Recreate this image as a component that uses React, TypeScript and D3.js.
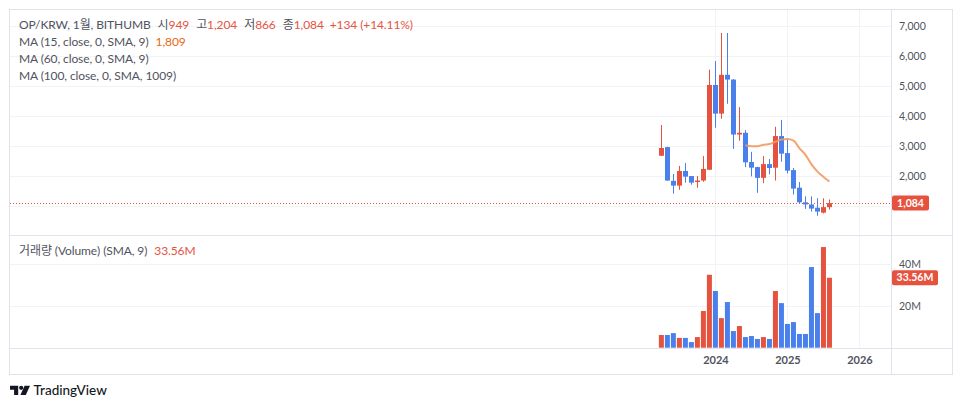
import React, { useEffect, useRef } from 'react'
import * as d3 from 'd3'

// monthly OP/KRW candles on Bithumb
const months = [
    '2023-04', '2023-05', '2023-06', '2023-07', '2023-08', '2023-09', '2023-10', '2023-11', '2023-12',
    '2024-01', '2024-02', '2024-03', '2024-04', '2024-05', '2024-06', '2024-07', '2024-08', '2024-09',
    '2024-10', '2024-11', '2024-12', '2025-01', '2025-02', '2025-03', '2025-04', '2025-05', '2025-06',
    '2025-07', '2025-08',
]
const opens = [2670, 2960, 1830, 1670, 2160, 1990, 1790, 1840, 2200, 5040, 4080, 5380, 5220, 3380, 3440, 2460, 2290, 1930, 2390, 2270, 3330, 2760, 2190, 1600, 1110, 1040, 930, 765, 949]
const highs = [3700, 2970, 2060, 2330, 2430, 1990, 1990, 2660, 5550, 5840, 6780, 6780, 5240, 4300, 3530, 2800, 2300, 2660, 2560, 3640, 3870, 3250, 2260, 1790, 1310, 1310, 1250, 1245, 1204]
const lows = [2660, 1830, 1400, 1530, 1770, 1700, 1600, 1800, 2200, 3610, 3910, 4410, 2900, 3170, 2290, 1980, 1430, 1750, 2050, 1840, 2470, 2080, 1370, 1090, 890, 800, 660, 740, 866]
const closes = [2930, 1840, 1670, 2160, 1970, 1770, 1840, 2230, 5040, 4080, 5380, 5220, 3380, 3440, 2450, 2270, 1930, 2390, 2260, 3330, 2740, 2170, 1570, 1110, 1040, 900, 800, 949, 1084]
// volume in millions
const volumes = [6.1, 6.1, 7.0, 4.7, 4.7, 2.7, 5.1, 17.6, 35.0, 27.2, 14.2, 21.9, 8.0, 10.4, 5.1, 5.6, 4.2, 5.1, 4.2, 27.2, 21.4, 11.4, 12.3, 6.6, 6.6, 38.7, 16.6, 48.3, 33.56]
// MA 15 line, starts at the 15th candle
const ma15Start = 14
const ma15 = [3020, 2990, 2990, 3040, 3060, 3140, 3210, 3230, 3180, 2920, 2700, 2380, 2140, 1960, 1809]

const priceTicks = [2000, 3000, 4000, 5000, 6000, 7000]
const priceGrid = [1000, 2000, 3000, 4000, 5000, 6000, 7000]
const volumeTicks = [20, 40]
const yearTicks = ['2024', '2025', '2026']

const UP = '#e5533f'
const DOWN = '#4a80eb'
const TEXT = '#50535e'
const GRID = '#f2f3f5'
const BORDER = '#e0e3eb'
const FONT = "Lato, 'Noto Sans CJK KR', sans-serif"

export default function App() {
    const svgRef = useRef<SVGSVGElement | null>(null)

    useEffect(() => {
        const svg = d3.select(svgRef.current)
        svg.selectAll('*').remove()

        const axisX = 891.5
        const price = { top: 10, bottom: 235.5 }
        const vol = { top: 236, bottom: 348 }

        // bar index -> pixel, one month is one slot
        const x = d3.scaleLinear().domain([-108.5, 38.25]).range([10, 891])
        const y = d3.scaleLinear().domain([0, 7550]).range([235.5, 10])
        const yv = d3.scaleLinear().domain([0, 53.6]).range([347.7, 236])

        const firstYear = +months[0].slice(0, 4)
        const firstMonth = +months[0].slice(5, 7)
        const yearIndex = (yr: string) => (+yr - firstYear) * 12 + (1 - firstMonth)

        svg.append('rect').attr('width', 962).attr('height', 409).attr('fill', '#fff')

        // grid
        const grid = svg.append('g').attr('stroke', GRID).attr('stroke-width', 1)
        priceGrid.forEach((v) => {
            const yy = Math.round(y(v)) + 0.5
            grid.append('line').attr('x1', 10).attr('x2', axisX).attr('y1', yy).attr('y2', yy)
        })
        volumeTicks.forEach((v) => {
            const yy = Math.round(yv(v)) + 0.5
            grid.append('line').attr('x1', 10).attr('x2', axisX).attr('y1', yy).attr('y2', yy)
        })
        yearTicks.forEach((yr) => {
            const xx = Math.round(x(yearIndex(yr))) + 0.5
            grid.append('line').attr('x1', xx).attr('x2', xx).attr('y1', price.top).attr('y2', price.bottom)
            grid.append('line').attr('x1', xx).attr('x2', xx).attr('y1', vol.top).attr('y2', vol.bottom)
        })

        // frame and pane separators
        const frame = svg.append('g').attr('stroke', BORDER).attr('fill', 'none')
        frame.append('rect').attr('x', 9.5).attr('y', 9.5).attr('width', 943).attr('height', 365)
        frame.append('line').attr('x1', axisX).attr('x2', axisX).attr('y1', 9.5).attr('y2', 374.5)
        frame.append('line').attr('x1', 9.5).attr('x2', 952.5).attr('y1', price.bottom).attr('y2', price.bottom)
        frame.append('line').attr('x1', 9.5).attr('x2', 952.5).attr('y1', vol.bottom + 0.5).attr('y2', vol.bottom + 0.5)

        const idx = d3.range(months.length)
        const up = (i: number) => closes[i] >= opens[i]

        // volume bars
        svg.append('g')
            .selectAll('rect')
            .data(idx)
            .join('rect')
            .attr('x', (i) => x(i) - 2.5)
            .attr('width', 5)
            .attr('y', (i) => yv(volumes[i]))
            .attr('height', (i) => yv(0) - yv(volumes[i]))
            .attr('fill', (i) => (up(i) ? UP : DOWN))

        // candles
        const candles = svg.append('g').selectAll('g').data(idx).join('g')
        candles
            .append('line')
            .attr('x1', (i) => Math.round(x(i)) + 0.5)
            .attr('x2', (i) => Math.round(x(i)) + 0.5)
            .attr('y1', (i) => y(highs[i]))
            .attr('y2', (i) => y(lows[i]))
            .attr('stroke', (i) => (up(i) ? UP : DOWN))
            .attr('stroke-width', 1)
        candles
            .append('rect')
            .attr('x', (i) => Math.round(x(i)) - 2)
            .attr('width', 5)
            .attr('y', (i) => y(Math.max(opens[i], closes[i])))
            .attr('height', (i) => Math.max(1, Math.abs(y(opens[i]) - y(closes[i]))))
            .attr('fill', (i) => (up(i) ? UP : DOWN))

        // MA 15
        const maLine = d3
            .line<number>()
            .x((_, k) => Math.round(x(ma15Start + k)) + 0.5)
            .y((d) => y(d))
            .curve(d3.curveMonotoneX)
        svg.append('path')
            .attr('d', maLine(ma15))
            .attr('fill', 'none')
            .attr('stroke', '#f29a60')
            .attr('stroke-width', 2)
            .attr('stroke-opacity', 0.9)

        // last price dotted line
        const last = closes[closes.length - 1]
        const lastY = Math.round(y(last)) + 0.5
        svg.append('line')
            .attr('x1', 10)
            .attr('x2', axisX)
            .attr('y1', lastY)
            .attr('y2', lastY)
            .attr('stroke', UP)
            .attr('stroke-dasharray', '1 2')

        // axes
        const priceAxis = svg
            .append('g')
            .attr('transform', `translate(${axisX},0)`)
            .call(d3.axisRight(y).tickValues(priceTicks).tickFormat(d3.format(',')).tickSize(0).tickPadding(7.5))
        const volAxis = svg
            .append('g')
            .attr('transform', `translate(${axisX},0)`)
            .call(
                d3
                    .axisRight(yv)
                    .tickValues(volumeTicks)
                    .tickFormat((d) => `${d}M`)
                    .tickSize(0)
                    .tickPadding(7.5)
            )
        const timeAxis = svg
            .append('g')
            .attr('transform', `translate(0,${vol.bottom + 4})`)
            .call(
                d3
                    .axisBottom(x)
                    .tickValues(yearTicks.map(yearIndex))
                    .tickFormat((d) => String(firstYear + Math.round((+d - (1 - firstMonth)) / 12)))
                    .tickSize(0)
                    .tickPadding(4)
            )
        ;[priceAxis, volAxis, timeAxis].forEach((g) => {
            g.select('.domain').remove()
            g.selectAll('text').attr('fill', TEXT).attr('font-family', FONT).attr('font-size', 10.5)
        })
        timeAxis.selectAll('text').attr('font-weight', 700).attr('font-size', 11)

        // value badges on the axis
        const badge = (yy: number, label: string, w: number) => {
            svg.append('rect')
                .attr('x', axisX + 0.5)
                .attr('y', yy - 7.5)
                .attr('width', w)
                .attr('height', 15)
                .attr('rx', 2)
                .attr('fill', UP)
            svg.append('text')
                .attr('x', axisX + 0.5 + w / 2)
                .attr('y', yy)
                .attr('dy', '0.35em')
                .attr('text-anchor', 'middle')
                .attr('fill', '#fff')
                .attr('font-family', FONT)
                .attr('font-weight', 700)
                .attr('font-size', 10.5)
                .text(label)
        }
        badge(y(last), d3.format(',')(last), 37)
        badge(yv(volumes[volumes.length - 1]), `${volumes[volumes.length - 1]}M`, 46)

        // legends
        const legend = svg
            .append('g')
            .attr('font-family', FONT)
            .attr('font-size', 12)
            .attr('letter-spacing', -0.1)
            .attr('fill', TEXT)
        const l1 = legend.append('text').attr('x', 19).attr('y', 29.3)
        const parts: [string, string, number][] = [
            ['OP/KRW, 1월, BITHUMB', TEXT, 0],
            ['시', TEXT, 7],
            [d3.format(',')(opens[opens.length - 1]), UP, 0],
            ['고', TEXT, 7],
            [d3.format(',')(highs[highs.length - 1]), UP, 0],
            ['저', TEXT, 7],
            [d3.format(',')(lows[lows.length - 1]), UP, 0],
            ['종', TEXT, 7],
            [d3.format(',')(last), UP, 0],
            ['+134 (+14.11%)', UP, 6],
        ]
        parts.forEach(([t, c, dx]) => l1.append('tspan').attr('dx', dx).attr('fill', c).text(t))

        const l2 = legend.append('text').attr('x', 19).attr('y', 46)
        l2.append('tspan').text('MA (15, close, 0, SMA, 9)')
        l2.append('tspan').attr('dx', 7).attr('fill', '#e8670f').text(d3.format(',')(ma15[ma15.length - 1]))
        legend.append('text').attr('x', 19).attr('y', 63.3).text('MA (60, close, 0, SMA, 9)')
        legend.append('text').attr('x', 19).attr('y', 80).text('MA (100, close, 0, SMA, 1009)')

        const l5 = legend.append('text').attr('x', 19).attr('y', 255)
        l5.append('tspan').text('거래량 (Volume) (SMA, 9)')
        l5.append('tspan').attr('dx', 7).attr('fill', UP).text(`${volumes[volumes.length - 1]}M`)

        // TradingView mark
        const logo = svg.append('g').attr('fill', '#131722')
        logo.append('path').attr('d', 'M10 385.7h8.2v9.3h-4.1v-5.2h-4.1z')
        logo.append('circle').attr('cx', 21.2).attr('cy', 387.8).attr('r', 2.1)
        logo.append('path').attr('d', 'M24.6 385.7h5.4l-4.2 9.3h-5.4z')
        svg.append('text')
            .attr('x', 33.5)
            .attr('y', 395)
            .attr('font-family', FONT)
            .attr('font-size', 13.5)
            .attr('font-weight', 500)
            .attr('fill', '#131722')
            .text('TradingView')
    }, [])

    return <svg ref={svgRef} width={962} height={409} style={{ position: 'absolute', left: 0, top: 0 }} />
}
